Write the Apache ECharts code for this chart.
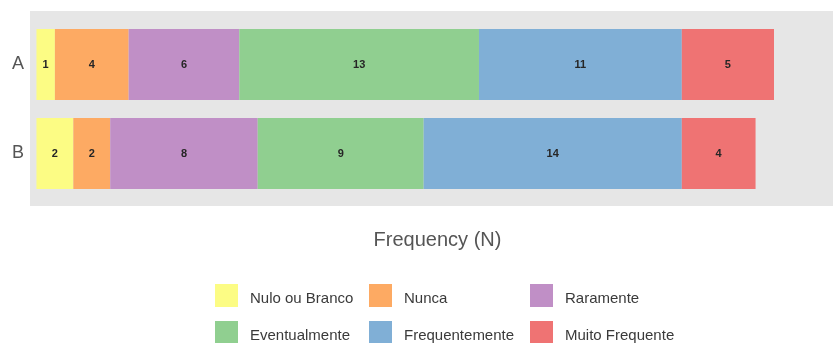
<!DOCTYPE html>
<html>
<head>
<meta charset="utf-8">
<script src="https://cdn.jsdelivr.net/npm/echarts@6/dist/echarts.min.js"></script>
<style>
  html, body { margin: 0; padding: 0; background: #ffffff; }
  #chart { width: 833px; height: 343px; }
</style>
</head>
<body>
<div id="chart"></div>
<script>
// Groups on the vertical axis, top to bottom
const groups = ['A', 'B'];

// Response levels (stack order, left to right)
const levels = ['Nulo ou Branco', 'Nunca', 'Raramente', 'Eventualmente', 'Frequentemente', 'Muito Frequente'];

// Counts per level, one value per group [A, B]
const nuloOuBranco   = [1, 2];
const nunca          = [4, 2];
const raramente      = [6, 8];
const eventualmente  = [13, 9];
const frequentemente = [11, 14];
const muitoFrequente = [5, 4];

const levelValues = [nuloOuBranco, nunca, raramente, eventualmente, frequentemente, muitoFrequente];
const levelColors = ['#fcfc84', '#fdaa63', '#c08fc6', '#90cf90', '#80afd6', '#ef7373'];

// Legend grid: 3 columns x 2 rows
const legendLefts = [215, 369, 530];
const legendTops = [284, 321];

const FONT = 'Liberation Sans, Arial, sans-serif';

const chart = echarts.init(document.getElementById('chart'), null, { renderer: 'canvas' });

const series = levels.map((name, i) => ({
  name: name,
  type: 'bar',
  stack: 'total',
  xAxisIndex: 1,
  yAxisIndex: 1,
  barWidth: '80%',
  itemStyle: { color: levelColors[i] },
  label: {
    show: true,
    position: 'inside',
    color: '#262626',
    fontSize: 11,
    fontWeight: 'bold',
    fontFamily: FONT
  },
  emphasis: { disabled: true },
  data: levelValues[i]
}));

// One legend entry per level, placed column-wise; text sits a little below the key centre
const legends = levels.map((name, i) => ({
  orient: 'horizontal',
  left: legendLefts[i % 3],
  top: legendTops[Math.floor(i / 3)],
  padding: 0,
  itemWidth: 23,
  itemHeight: 23,
  icon: 'rect',
  selectedMode: false,
  formatter: '{t|{name}}',
  textStyle: {
    rich: {
      t: { fontSize: 15, color: '#3a3a3a', fontFamily: FONT, padding: [7, 0, 0, 7] }
    }
  },
  data: [name]
}));

chart.setOption({
  animation: false,
  backgroundColor: '#ffffff',
  grid: [
    // grey plotting panel
    { left: 30, right: 0, top: 11, height: 195, show: true, backgroundColor: '#e6e6e6', borderWidth: 0 },
    // bars
    { left: 30, right: 0, top: 20, height: 178 }
  ],
  xAxis: [
    { gridIndex: 0, type: 'value', show: false },
    {
      gridIndex: 1,
      type: 'value',
      min: -0.35,
      max: 43.2,
      name: 'Frequency (N)',
      nameLocation: 'middle',
      nameGap: 32,
      nameTextStyle: { fontSize: 20, color: '#555555', fontFamily: FONT, padding: [0, 0, 0, 12] },
      axisLine: { show: false },
      axisTick: { show: false },
      axisLabel: { show: false },
      splitLine: { show: false }
    }
  ],
  yAxis: [
    { gridIndex: 0, type: 'value', show: false },
    {
      gridIndex: 1,
      type: 'category',
      inverse: true,
      data: groups,
      axisLine: { show: false },
      axisTick: { show: false },
      axisLabel: { margin: 6, fontSize: 18, color: '#555555', fontFamily: FONT },
      splitLine: { show: false }
    }
  ],
  legend: legends,
  series: series
});
</script>
</body>
</html>
